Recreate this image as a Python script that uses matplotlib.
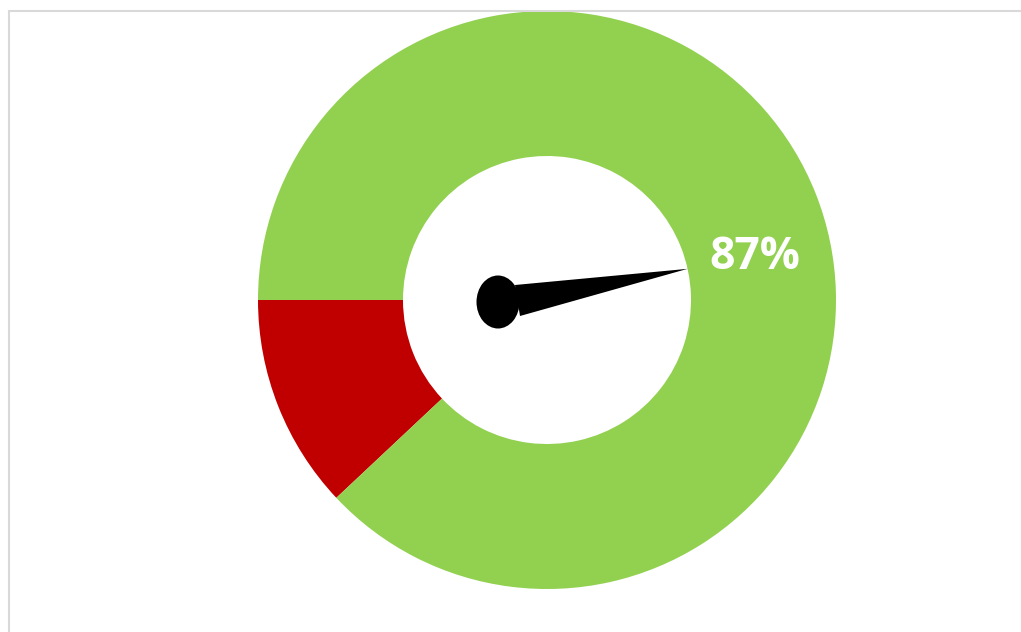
import numpy as np
import matplotlib.pyplot as plt
from matplotlib.patches import Ellipse, Polygon, Rectangle

# Werte des Gauges
segmente = ["Rest", "Erreicht"]
werte = [12, 88]
farben = ["#C00000", "#92D050"]
label_text = "87%"
nadel_winkel = 12.5  # Grad, gegen den Uhrzeigersinn ab 3 Uhr

fig = plt.figure(figsize=(10.21, 6.32), dpi=100)
ax = fig.add_axes([0, 0, 1, 1])

# Mittelpunkt und Radien in Pixel-Koordinaten (y nach oben)
cx, cy = 547, 632 - 300
r_aussen = 289
r_innen = 144

ax.pie(werte, colors=farben, startangle=180, counterclock=True,
       radius=r_aussen, center=(cx, cy),
       wedgeprops=dict(width=r_aussen - r_innen, linewidth=0))

# Nadel
w = np.deg2rad(nadel_winkel)
spitze = (cx + r_innen * np.cos(w), cy + r_innen * np.sin(w))
px, py = cx - 49, cy - 2
ax.add_patch(Polygon([(px + 17, py + 17), spitze, (px + 22, py - 14)],
                     closed=True, color="black", lw=0))
ax.add_patch(Ellipse((px, py), 43, 53, color="black", lw=0))

# Beschriftung
lw = np.deg2rad(11.5)
ax.text(cx + 212 * np.cos(lw), cy + 212 * np.sin(lw), label_text,
        color="white", fontsize=32, fontweight="bold", family="Open Sans",
        ha="center", va="center")

# Rahmen
ax.add_patch(Rectangle((9, -10), 1030, 632 - 11 + 10, fill=False,
                       edgecolor="#D9D9D9", lw=1.5))

ax.set_xlim(0, 1021)
ax.set_ylim(0, 632)
ax.set_aspect("auto")
ax.axis("off")

fig.savefig("out.png", dpi=100)
